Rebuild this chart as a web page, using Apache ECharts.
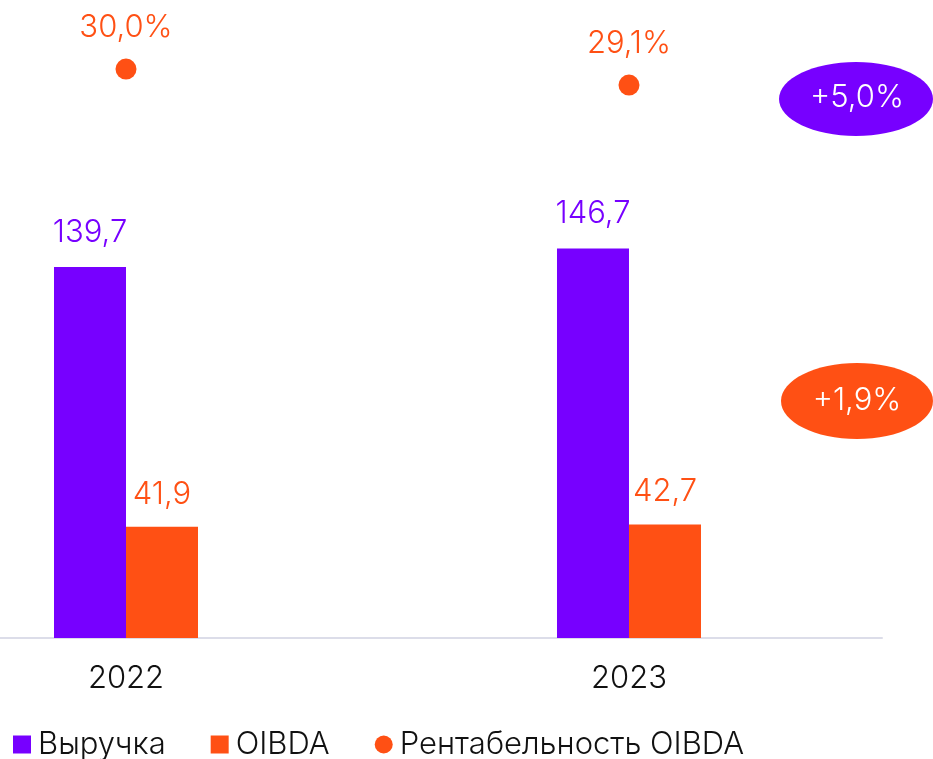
<!DOCTYPE html>
<html>
<head>
<meta charset="utf-8">
<script src="https://cdn.jsdelivr.net/npm/echarts@6/dist/echarts.min.js"></script>
<style>
  html, body { margin: 0; padding: 0; background: #fff; }
  #chart { width: 933px; height: 759px; }
</style>
</head>
<body>
<div id="chart"></div>
<script>
// Data
const years = ["2022", "2023"];
const revenue = [139.7, 146.7];
const oibda = [41.9, 42.7];
const margin = [30.0, 29.1];
const growthLabels = ["+5,0%", "+1,9%"];

const purple = "#7700ff";
const orange = "#ff5014";
const fontName = "Inter, 'Noto Sans', sans-serif";

// format number with comma decimal
function fmt(v) {
  return v.toFixed(1).replace(".", ",");
}

// pair each value with its year index on the x axis
function withIndex(arr) {
  return arr.map((v, i) => [i, v]);
}

let myChart = echarts.init(document.getElementById("chart"));

let option = {
  animation: false,
  grid: {
    left: 0,
    right: 51,
    top: 0.6,
    bottom: 121,
  },
  xAxis: {
    type: "value",
    min: -0.2505,
    max: 1.503,
    splitLine: { show: false },
    axisLine: { show: true, onZero: false, lineStyle: { color: "#dcdde9", width: 2 } },
    axisTick: { show: false },
    axisLabel: {
      customValues: [0, 1],
      formatter: (v) => years[Math.round(v)],
      color: "#111",
      fontSize: 31,
      fontFamily: fontName,
      fontWeight: 300,
      margin: 25,
    },
  },
  yAxis: [
    { type: "value", min: 0, max: 240, show: false },
    { type: "value", min: -2, max: 33.85, show: false },
  ],
  legend: {
    left: 8,
    top: 724,
    itemWidth: 18,
    itemHeight: 18,
    itemGap: 45,
    textStyle: { color: "#111", fontSize: 31, fontFamily: fontName, fontWeight: 300, padding: [0, 0, 0, 2] },
    data: [
      { name: "Выручка", icon: "rect" },
      { name: "OIBDA", icon: "rect" },
      { name: "Рентабельность OIBDA", icon: "circle" },
    ],
  },
  series: [
    {
      name: "Выручка",
      type: "bar",
      data: withIndex(revenue),
      barWidth: 72,
      barGap: "0%",
      itemStyle: { color: purple },
      label: {
        show: true,
        position: "top",
        distance: 19,
        color: purple,
        fontSize: 31,
        fontFamily: fontName,
        fontWeight: 300,
        formatter: (p) => fmt(p.value[1]),
      },
    },
    {
      name: "OIBDA",
      type: "bar",
      data: withIndex(oibda),
      barWidth: 72,
      barGap: "0%",
      itemStyle: { color: orange },
      label: {
        show: true,
        position: "top",
        distance: 17,
        color: orange,
        fontSize: 31,
        fontFamily: fontName,
        fontWeight: 300,
        formatter: (p) => fmt(p.value[1]),
      },
    },
    {
      name: "Рентабельность OIBDA",
      type: "scatter",
      yAxisIndex: 1,
      data: withIndex(margin),
      symbolSize: 21,
      itemStyle: { color: orange, opacity: 1 },
      label: {
        show: true,
        position: "top",
        distance: 15,
        color: orange,
        fontSize: 31,
        fontFamily: fontName,
        fontWeight: 300,
        formatter: (p) => fmt(p.value[1]) + "%",
      },
    },
  ],
  graphic: [
    {
      type: "ellipse",
      shape: { cx: 856, cy: 99, rx: 77, ry: 37 },
      style: { fill: purple },
    },
    {
      type: "text",
      x: 857,
      y: 98,
      style: {
        text: growthLabels[0],
        fill: "#fff",
        fontSize: 31,
        fontFamily: fontName,
        fontWeight: 300,
        align: "center",
        verticalAlign: "middle",
      },
    },
    {
      type: "ellipse",
      shape: { cx: 857, cy: 401, rx: 76, ry: 38 },
      style: { fill: orange },
    },
    {
      type: "text",
      x: 857,
      y: 401,
      style: {
        text: growthLabels[1],
        fill: "#fff",
        fontSize: 31,
        fontFamily: fontName,
        fontWeight: 300,
        align: "center",
        verticalAlign: "middle",
      },
    },
  ],
};

myChart.setOption(option);
</script>
</body>
</html>
